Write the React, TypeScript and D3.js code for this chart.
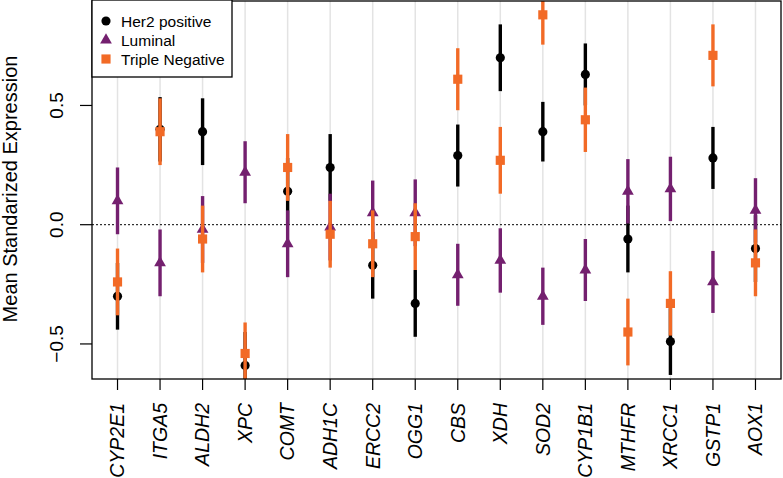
import * as d3 from "d3";

const width = 783;
const height = 478;

const genes = ["CYP2E1", "ITGA5", "ALDH2", "XPC", "COMT", "ADH1C", "ERCC2", "OGG1", "CBS", "XDH", "SOD2", "CYP1B1", "MTHFR", "XRCC1", "GSTP1", "AOX1"];

// means and half-widths of the error bars
const her2Mean = [-0.30, 0.40, 0.39, -0.59, 0.14, 0.24, -0.17, -0.33, 0.29, 0.70, 0.39, 0.63, -0.06, -0.49, 0.28, -0.10];
const her2Err = [0.14, 0.135, 0.14, 0.14, 0.14, 0.14, 0.14, 0.14, 0.13, 0.14, 0.125, 0.13, 0.14, 0.14, 0.13, 0.14];
const lumMean = [0.10, -0.16, -0.02, 0.22, -0.08, -0.01, 0.05, 0.05, -0.21, -0.15, -0.30, -0.19, 0.14, 0.15, -0.24, 0.06];
const lumErr = [0.14, 0.14, 0.14, 0.13, 0.14, 0.14, 0.135, 0.14, 0.13, 0.135, 0.12, 0.13, 0.135, 0.135, 0.13, 0.135];
const tnMean = [-0.24, 0.39, -0.06, -0.54, 0.24, -0.04, -0.08, -0.05, 0.61, 0.27, 0.88, 0.44, -0.45, -0.33, 0.71, -0.16];
const tnErr = [0.14, 0.14, 0.14, 0.13, 0.14, 0.14, 0.14, 0.14, 0.13, 0.14, 0.125, 0.135, 0.14, 0.135, 0.13, 0.14];

const yTicks = [-0.5, 0, 0.5];

const series = [
  { name: "Her2 positive", mean: her2Mean, err: her2Err, color: "#000000", symbol: d3.symbolCircle, size: 66 },
  { name: "Luminal", mean: lumMean, err: lumErr, color: "#74206f", symbol: d3.symbolTriangle, size: 60 },
  { name: "Triple Negative", mean: tnMean, err: tnErr, color: "#f26a26", symbol: d3.symbolSquare, size: 84 },
];

const left = 92, right = 781, top = 1, bottom = 379;
const font = "'Liberation Sans', Arial, sans-serif";

const App = () => {
  const x = d3.scaleLinear().domain([0.4, genes.length + 0.6]).range([left, right]);
  const y = d3.scaleLinear().domain([-0.647, 0.938]).range([bottom, top]);

  return (
    <svg width={width} height={height} style={{ position: "absolute", left: 0, top: 0, background: "#fff" }}>
      <defs>
        <clipPath id="plot">
          <rect x={left} y={top} width={right - left} height={bottom - top} />
        </clipPath>
      </defs>

      {/* vertical guides */}
      {genes.map((g, i) => (
        <line key={g} x1={x(i + 1)} x2={x(i + 1)} y1={top} y2={bottom} stroke="#e3e3e3" strokeWidth={1.5} />
      ))}

      <line x1={left} x2={right} y1={y(0)} y2={y(0)} stroke="#000" strokeWidth={1} strokeDasharray="2,2" />

      <g clipPath="url(#plot)">
        {series.map(s => (
          <g key={s.name}>
            {s.mean.map((m, i) => (
              <g key={i}>
                <line x1={x(i + 1)} x2={x(i + 1)} y1={y(m - s.err[i])} y2={y(m + s.err[i])} stroke={s.color} strokeWidth={3.4} />
                <path d={d3.symbol(s.symbol, s.size)()} transform={`translate(${x(i + 1)},${y(m)})`} fill={s.color} />
              </g>
            ))}
          </g>
        ))}
      </g>

      {/* x axis */}
      {genes.map((g, i) => (
        <g key={g} transform={`translate(${x(i + 1)},0)`}>
          <line y1={bottom} y2={bottom + 11} stroke="#000" strokeWidth={1.2} />
          <text transform={`translate(0,403) rotate(-90)`} dy="0.35em" textAnchor="end" fontStyle="italic" fontSize={19.5} fontFamily={font}>{g}</text>
        </g>
      ))}

      {/* y axis */}
      {yTicks.map(t => (
        <g key={t} transform={`translate(0,${y(t)})`}>
          <line x1={left - 12} x2={left} stroke="#000" strokeWidth={1.2} />
          <text transform="translate(63,0) rotate(-90)" textAnchor="middle" fontSize={19} fontFamily={font}>{d3.format(".1f")(t)}</text>
        </g>
      ))}
      <text transform={`translate(16.5,${(top + bottom) / 2 - 1}) rotate(-90)`} textAnchor="middle" fontSize={20} fontFamily={font}>Mean Standarized Expression</text>

      <rect x={left} y={top} width={right - left} height={bottom - top} fill="none" stroke="#000" strokeWidth={1.3} />

      {/* legend */}
      <g>
        <rect x={left} y={top - 1} width={140} height={77} fill="#fff" stroke="#000" strokeWidth={1.3} />
        {series.map((s, i) => (
          <g key={s.name} transform={`translate(${left},${21 + i * 19})`}>
            <path d={d3.symbol(s.symbol, s.size)()} transform="translate(14,0)" fill={s.color} />
            <text x={29} dy="0.36em" fontSize={15.5} fontFamily={font}>{s.name}</text>
          </g>
        ))}
      </g>
    </svg>
  );
};

export default App;
